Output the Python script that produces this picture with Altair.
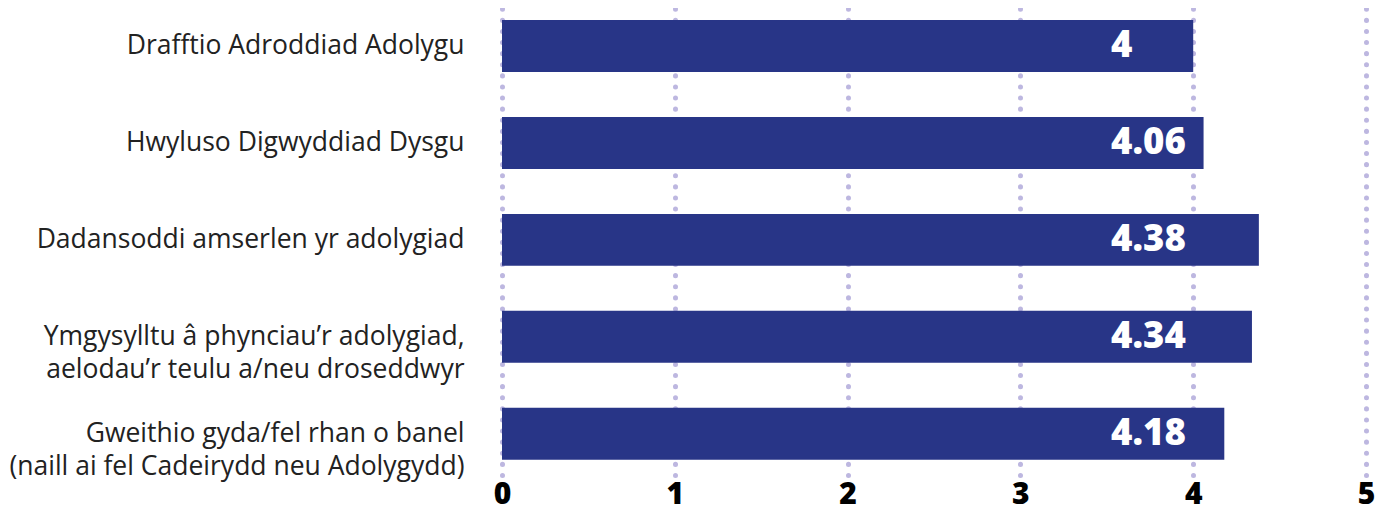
import altair as alt
import pandas as pd

categories = [
    "Drafftio Adroddiad Adolygu",
    "Hwyluso Digwyddiad Dysgu",
    "Dadansoddi amserlen yr adolygiad",
    "Ymgysylltu â phynciau’r adolygiad,|aelodau’r teulu a/neu droseddwyr",
    "Gweithio gyda/fel rhan o banel|(naill ai fel Cadeirydd neu Adolygydd)",
]
values = [4, 4.06, 4.38, 4.34, 4.18]
value_labels = ["4", "4.06", "4.38", "4.34", "4.18"]
x_ticks = [0, 1, 2, 3, 4, 5]

df = pd.DataFrame({"cat": categories, "val": values, "lab": value_labels})

y_enc = alt.Y(
    "cat:N",
    sort=categories,
    scale=alt.Scale(paddingInner=0.464, paddingOuter=0.14, align=0.44),
    axis=alt.Axis(
        title=None,
        labelExpr="split(datum.label, '|')",
        labelFont="Open Sans",
        labelFontSize=26.5,
        labelColor="#222222",
        labelLineHeight=33,
        labelPadding=38,
        labelLimit=700,
        domain=False,
        ticks=False,
        grid=False,
    ),
)

bars = alt.Chart(df).mark_bar(color="#283587").encode(
    x=alt.X(
        "val:Q",
        scale=alt.Scale(domain=[0, 5], nice=False),
        axis=alt.Axis(
            title=None,
            values=x_ticks,
            format="d",
            labelFont="Open Sans",
            labelFontSize=30,
            labelFontWeight=800,
            labelColor="#000000",
            labelPadding=4,
            labelBaseline="top",
            labelFlush=False,
            domain=False,
            ticks=False,
            grid=True,
            gridColor="#bdb7e0",
            gridDash=[0.1, 11],
            gridCap="round",
            gridWidth=5,
        ),
    ),
    y=y_enc,
)

text = alt.Chart(df).mark_text(
    align="left",
    baseline="middle",
    color="white",
    font="Open Sans",
    fontSize=36.5,
    fontWeight=800,
).encode(
    x=alt.datum(3.525),
    y=alt.Y("cat:N", sort=categories),
    text="lab:N",
)

chart = (
    alt.layer(bars, text)
    .properties(
        width=864,
        height=467,
        padding={"left": 0, "top": 0, "right": 0, "bottom": 6},
    )
    .configure_view(stroke=None)
    .configure_axis(gridOpacity=1)
)

chart.save("out.html", embed_options={"renderer": "svg", "actions": False})
